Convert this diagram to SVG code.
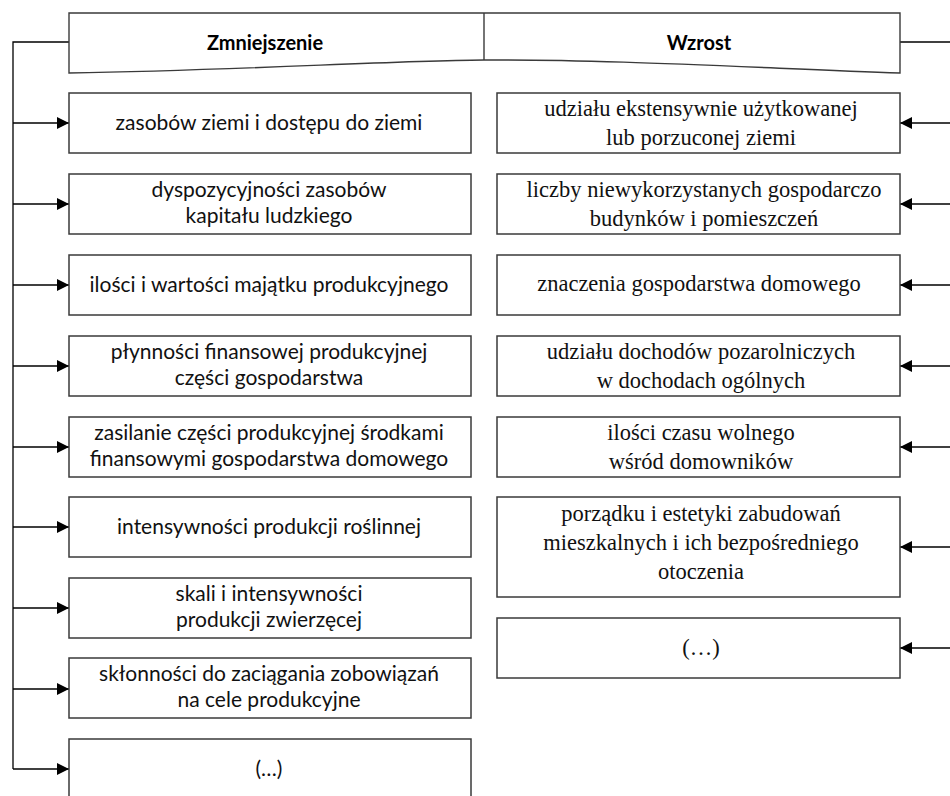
<svg xmlns="http://www.w3.org/2000/svg" width="950" height="796" viewBox="0 0 950 796">
<defs>
<marker id="ah" markerWidth="12" markerHeight="12" refX="12" refY="6" orient="auto" markerUnits="userSpaceOnUse">
<path d="M0,0 L12,6 L0,12 Z" fill="#000"/>
</marker>
<style>
.box{fill:#fff;stroke:#3a3a3a;stroke-width:1.5}
.hdr{fill:#fff;stroke:#3a3a3a;stroke-width:1.4}
.ln{fill:none;stroke:#000;stroke-width:1.3}
.ar{fill:none;stroke:#000;stroke-width:1.3;marker-end:url(#ah)}
.s{font-family:Lato,"Open Sans","Liberation Sans",sans-serif;font-size:21px;fill:#111;text-anchor:middle}
.r{font-family:"Liberation Serif","DejaVu Serif",serif;font-size:22.5px;fill:#111;text-anchor:middle}
.h{font-family:Lato,"Open Sans","Liberation Sans",sans-serif;font-size:20px;font-weight:bold;fill:#000;text-anchor:middle}
</style>
</defs>
<rect width="950" height="796" fill="#fff"/>

<g id="connectors">
<path class="ln" d="M69,42 H13 V769"/>
<path class="ln" d="M900,42 H950"/>
<path class="ar" d="M13,123 H69"/>
<path class="ar" d="M13,204 H69"/>
<path class="ar" d="M13,285 H69"/>
<path class="ar" d="M13,366 H69"/>
<path class="ar" d="M13,447 H69"/>
<path class="ar" d="M13,527 H69"/>
<path class="ar" d="M13,608 H69"/>
<path class="ar" d="M13,689 H69"/>
<path class="ar" d="M13,769 H69"/>
<path class="ar" d="M950,123 H900"/>
<path class="ar" d="M950,204 H900"/>
<path class="ar" d="M950,285 H900"/>
<path class="ar" d="M950,366 H900"/>
<path class="ar" d="M950,447 H900"/>
<path class="ar" d="M950,547 H900"/>
<path class="ar" d="M950,648 H900"/>
</g>

<g id="header">
<path class="hdr" d="M69,13 H900 V73 C760,68 600,59 484,60 C380,61 250,70 69,73 Z"/>
<path class="hdr" d="M484,13 V60"/>
<text class="h" x="265" y="50">Zmniejszenie</text>
<text class="h" x="699" y="50">Wzrost</text>
</g>

<g id="L1"><rect class="box" x="69" y="93" width="402" height="60"/><text class="s" x="269" y="130">zasobów ziemi i dostępu do ziemi</text></g>
<g id="L2"><rect class="box" x="69" y="174" width="402" height="60"/><text class="s" x="269" y="197">dyspozycyjności zasobów</text><text class="s" x="269" y="223">kapitału ludzkiego</text></g>
<g id="L3"><rect class="box" x="69" y="255" width="402" height="60"/><text class="s" x="269" y="292">ilości i wartości majątku produkcyjnego</text></g>
<g id="L4"><rect class="box" x="69" y="336" width="402" height="60"/><text class="s" x="269" y="359">płynności finansowej produkcyjnej</text><text class="s" x="269" y="385">części gospodarstwa</text></g>
<g id="L5"><rect class="box" x="69" y="417" width="402" height="60"/><text class="s" x="269" y="440">zasilanie części produkcyjnej środkami</text><text class="s" x="269" y="466">finansowymi gospodarstwa domowego</text></g>
<g id="L6"><rect class="box" x="69" y="497" width="402" height="60"/><text class="s" x="269" y="534">intensywności produkcji roślinnej</text></g>
<g id="L7"><rect class="box" x="69" y="578" width="402" height="60"/><text class="s" x="269" y="601">skali i intensywności</text><text class="s" x="269" y="627">produkcji zwierzęcej</text></g>
<g id="L8"><rect class="box" x="69" y="658" width="402" height="60"/><text class="s" x="269" y="681">skłonności do zaciągania zobowiązań</text><text class="s" x="269" y="707">na cele produkcyjne</text></g>
<g id="L9"><rect class="box" x="69" y="739" width="402" height="70"/><text class="s" x="269" y="776">(…)</text></g>

<g id="R1"><rect class="box" x="497" y="93" width="403" height="60"/><text class="r" x="701" y="116">udziału ekstensywnie użytkowanej</text><text class="r" x="701" y="145">lub porzuconej ziemi</text></g>
<g id="R2"><rect class="box" x="497" y="174" width="403" height="60"/><text class="r" x="704" y="197">liczby niewykorzystanych gospodarczo</text><text class="r" x="704" y="226">budynków i pomieszczeń</text></g>
<g id="R3"><rect class="box" x="497" y="255" width="403" height="60"/><text class="r" x="699" y="291">znaczenia gospodarstwa domowego</text></g>
<g id="R4"><rect class="box" x="497" y="336" width="403" height="60"/><text class="r" x="701" y="359">udziału dochodów pozarolniczych</text><text class="r" x="701" y="388">w dochodach ogólnych</text></g>
<g id="R5"><rect class="box" x="497" y="417" width="403" height="60"/><text class="r" x="701" y="440">ilości czasu wolnego</text><text class="r" x="701" y="469">wśród domowników</text></g>
<g id="R6"><rect class="box" x="497" y="497" width="403" height="100"/><text class="r" x="701" y="521">porządku i estetyki zabudowań</text><text class="r" x="701" y="550">mieszkalnych i ich bezpośredniego</text><text class="r" x="701" y="579">otoczenia</text></g>
<g id="R7"><rect class="box" x="497" y="618" width="403" height="60"/><text class="r" x="701" y="655">(…)</text></g>
</svg>
